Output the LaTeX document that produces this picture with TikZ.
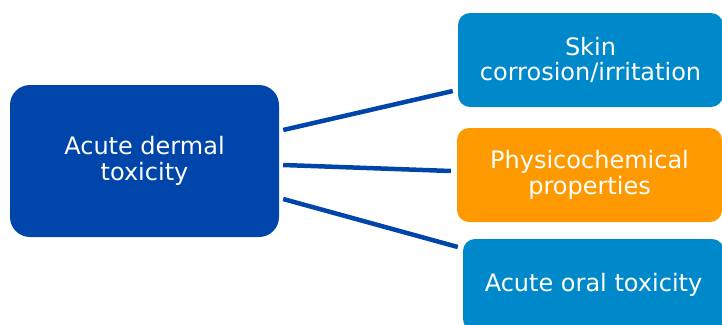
\documentclass[tikz,border=0pt]{standalone}
\usepackage{fontspec}
\setmainfont{DejaVu Sans}
\definecolor{darkblue}{RGB}{0,70,170}
\definecolor{lightblue}{RGB}{0,137,202}
\definecolor{orangebox}{RGB}{255,153,0}
\begin{document}
\begin{tikzpicture}[x=1pt,y=-1pt,
  boxstyle/.style={inner sep=0pt, text=white, align=center,
    font=\fontsize{24}{25.5}\selectfont},
  linkstyle/.style={draw=darkblue, line width=4.5pt}]
\useasboundingbox (0,0) rectangle (722,324);
\clip (0,0) rectangle (722,324);
\node[boxstyle, fill=darkblue, rounded corners=20pt, minimum width=269pt, minimum height=152pt] (main) at (144.5,161) {Acute dermal\\toxicity};
\node[boxstyle, fill=lightblue, rounded corners=12pt, minimum width=265pt, minimum height=94pt] (skin) at (590.5,60) {Skin\\corrosion/irritation};
\node[boxstyle, fill=orangebox, rounded corners=12pt, minimum width=265pt, minimum height=94pt] (phys) at (589.5,175) {Physicochemical\\properties};
\node[boxstyle, fill=lightblue, rounded corners=12pt, minimum width=261pt, minimum height=92pt] (oral) at (593.5,285) {Acute oral toxicity};
\draw[linkstyle] ([xshift=4pt,yshift=31pt]main.east) -- ([xshift=-5pt,yshift=-31pt]skin.west);
\draw[linkstyle] ([xshift=4pt,yshift=-4pt]main.east) -- ([xshift=-6pt,yshift=4pt]phys.west);
\draw[linkstyle] ([xshift=4pt,yshift=-38pt]main.east) -- ([xshift=-5pt,yshift=38pt]oral.west);
\end{tikzpicture}
\end{document}
